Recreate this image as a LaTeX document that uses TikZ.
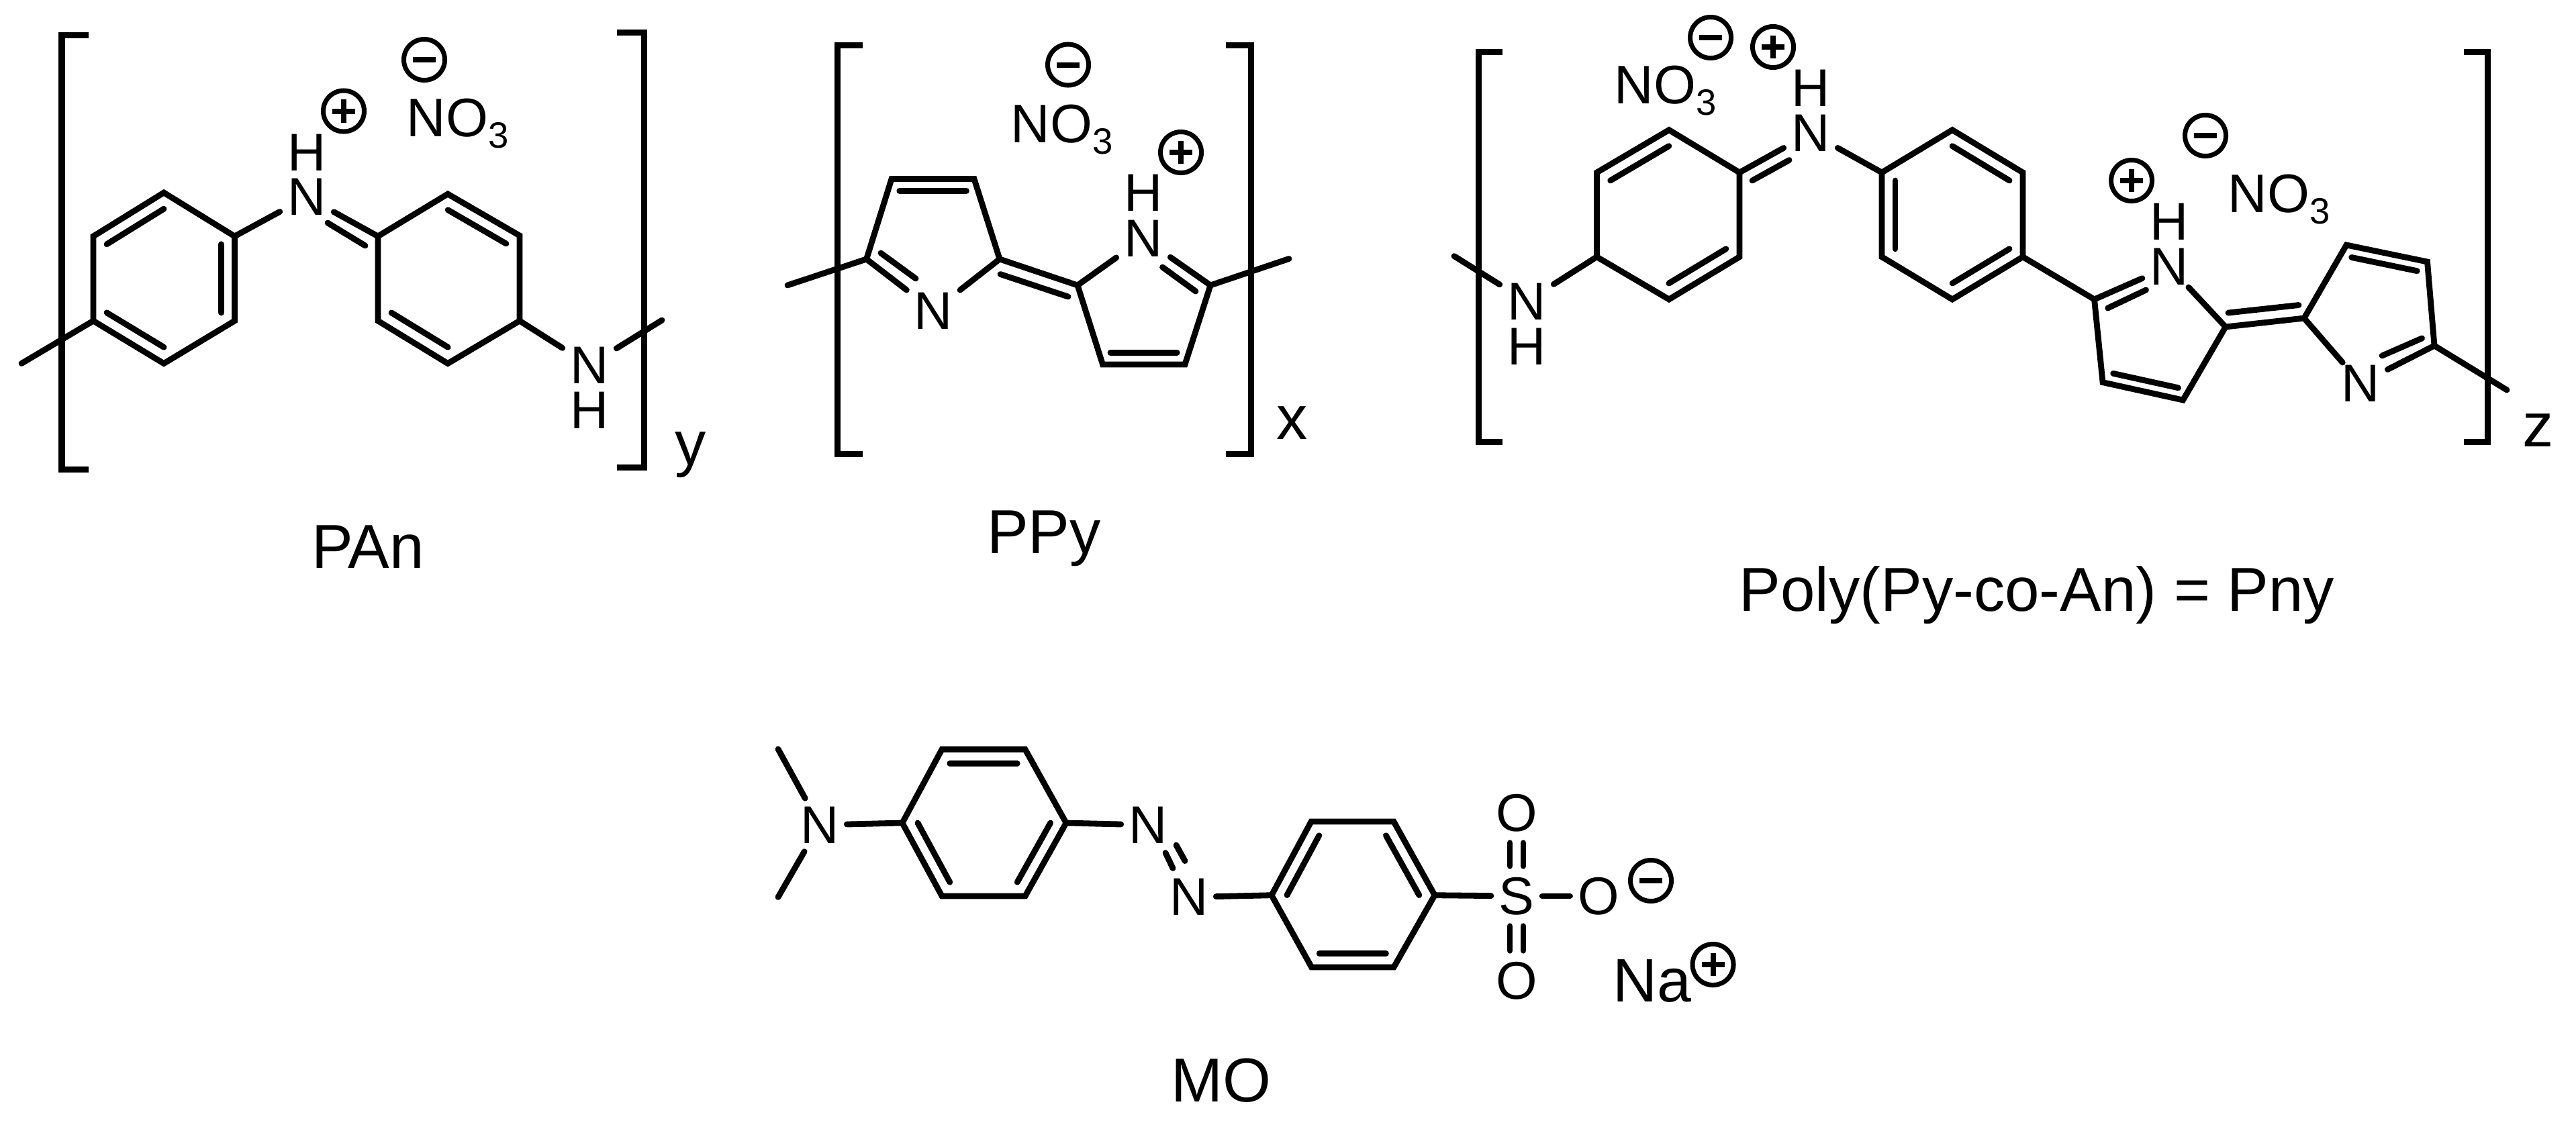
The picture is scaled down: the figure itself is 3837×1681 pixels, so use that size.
\documentclass[tikz,border=0pt]{standalone}
\usepackage{fontspec}
\setmainfont{Liberation Sans}
\usetikzlibrary{calc}
\tikzset{
    bond/.style={line width=.088cm, line cap=round},
    brk/.style={line width=.09cm},
    atom/.style={inner xsep=.11cm, inner ysep=.03cm, font=\fontsize{22.5}{22.5}\selectfont},
    salt/.style={inner sep=0pt, anchor=base west, font=\fontsize{23}{23}\selectfont},
    tag/.style={inner sep=0pt, anchor=base, font=\fontsize{26.3}{26.3}\selectfont},
    ion/.style={draw, circle, line width=.07cm, inner sep=0pt, minimum size=.61cm},
    negion/.style={ion, path picture={
        \draw[line width=.08cm] ([xshift=-.17cm]path picture bounding box.center) -- ([xshift=.17cm]path picture bounding box.center);}},
    posion/.style={ion, path picture={
        \draw[line width=.08cm] ([xshift=-.17cm]path picture bounding box.center) -- ([xshift=.17cm]path picture bounding box.center);
        \draw[line width=.08cm] ([yshift=-.17cm]path picture bounding box.center) -- ([yshift=.17cm]path picture bounding box.center);}}
}
\newcommand{\inbond}[3]{\draw[bond] ($(#1)!.19!(#3)$) -- ($(#2)!.19!(#3)$);}
\newcommand{\nitrate}{NO\raisebox{-5pt}{\fontsize{15.5}{15.5}\selectfont 3}}

\begin{document}
\begin{tikzpicture}[x=.01cm,y=-.01cm]
    \useasboundingbox (0,0) rectangle (3837,1681);

    % PAn
    \draw[brk] (132,52) -| (92,699) -- (132,699);
    \draw[brk] (919,48) -| (959,696) -- (919,696);
    \node[atom] (panNa) at (457,293.5) {N};
    \node[atom] (panHa) at (457,227) {H};
    \node[atom] (panNb) at (878,544) {N};
    \node[atom] (panHb) at (878,611) {H};
    \node[posion] (panPlus) at (512,165.5) {};
    \node[negion] (panMinus) at (632,89) {};
    \node[salt] (panSalt) at (605,203) {\nitrate};
    \node[tag] (panY) at (1029,692) {y};
    \node[tag] (panName) at (548,846) {PAn};
    \path (244,287) coordinate (a1) (349.5,352) coordinate (a2) (349.5,478) coordinate (a3)
        (244,541.5) coordinate (a4) (139,478) coordinate (a5) (139,352) coordinate (a6)
        (244.5,414) coordinate (ac);
    \path (563,352) coordinate (b1) (667,289) coordinate (b2) (774,351) coordinate (b3)
        (774,478) coordinate (b4) (667,541.5) coordinate (b5) (563,478) coordinate (b6)
        (668,414) coordinate (bc);
    \coordinate (panEndL) at (32,541.5);
    \coordinate (panEndR) at (986,477);
    \coordinate (panDbA) at (544,366);
    \coordinate (panDbB) at (488,332);
    \draw[bond] (a1) -- (a2) -- (a3) -- (a4) -- (a5) -- (a6) -- cycle;
    \inbond{a6}{a1}{ac}
    \inbond{a2}{a3}{ac}
    \inbond{a4}{a5}{ac}
    \draw[bond] (b1) -- (b2) -- (b3) -- (b4) -- (b5) -- (b6) -- cycle;
    \inbond{b2}{b3}{bc}
    \inbond{b5}{b6}{bc}
    \draw[bond] (a5) -- (panEndL);
    \draw[bond] (a2) -- (panNa);
    \draw[bond] (b1) -- (panNa);
    \draw[bond] (panDbA) -- (panDbB);
    \draw[bond] (b4) -- (panNb);
    \draw[bond] (panNb) -- (panEndR);

    % PPy
    \draw[brk] (1285,67) -| (1247.5,676) -- (1285,676);
    \draw[brk] (1826,67) -| (1863.5,676) -- (1826,676);
    \node[atom] (ppyNa) at (1390.5,463) {N};
    \node[atom] (ppyNb) at (1703,355) {N};
    \node[atom] (ppyH) at (1703,287) {H};
    \node[posion] (ppyPlus) at (1759,227) {};
    \node[negion] (ppyMinus) at (1591,96.5) {};
    \node[salt] (ppySalt) at (1505,212) {\nitrate};
    \node[tag] (ppyX) at (1925,654) {x};
    \node[tag] (ppyName) at (1555,824) {PPy};
    \path (1290.6,386) coordinate (c1) (1328,266.5) coordinate (c2) (1451,266.5) coordinate (c3)
        (1489,386) coordinate (c4) (1390,360) coordinate (cc);
    \path (1605,425) coordinate (d1) (1803,425) coordinate (d2) (1765,543) coordinate (d3)
        (1642.5,543) coordinate (d4) (1703,450) coordinate (dc);
    \coordinate (ppyEndL) at (1173,425);
    \coordinate (ppyEndR) at (1920,385.5);
    \path (1312,377) coordinate (ppyDbA) (1364,415) coordinate (ppyDbB);
    \path (1490,408.5) coordinate (ppyDbC) (1591,442) coordinate (ppyDbD);
    \path (1731.5,398) coordinate (ppyDbE) (1781,434) coordinate (ppyDbF);
    \draw[bond] (ppyNa) -- (c1) -- (c2) -- (c3) -- (c4) -- (ppyNa);
    \inbond{c2}{c3}{cc}
    \draw[bond] (ppyDbA) -- (ppyDbB);
    \draw[bond] (c1) -- (ppyEndL);
    \draw[bond] (c4) -- (d1);
    \draw[bond] (ppyDbC) -- (ppyDbD);
    \draw[bond] (ppyNb) -- (d1) -- (d4) -- (d3) -- (d2) -- (ppyNb);
    \inbond{d4}{d3}{dc}
    \draw[bond] (ppyDbE) -- (ppyDbF);
    \draw[bond] (d2) -- (ppyEndR);

    % Pny
    \draw[brk] (2238,77) -| (2202,658) -- (2238,658);
    \draw[brk] (3670,77) -| (3705,658) -- (3670,658);
    \node[atom] (pnyNa) at (2274,449) {N};
    \node[atom] (pnyHa) at (2274,516) {H};
    \node[atom] (pnyNb) at (2697,198) {N};
    \node[atom] (pnyHb) at (2697,131) {H};
    \node[atom] (pnyNc) at (3231,397) {N};
    \node[atom] (pnyHc) at (3231,330) {H};
    \node[atom] (pnyNd) at (3516,571) {N};
    \node[posion] (pnyPlusA) at (2641,70) {};
    \node[negion] (pnyMinusA) at (2548,56) {};
    \node[salt] (pnySaltA) at (2404,154) {\nitrate};
    \node[posion] (pnyPlusB) at (3175,269) {};
    \node[negion] (pnyMinusB) at (3285,202) {};
    \node[salt] (pnySaltB) at (3318,316) {\nitrate};
    \node[tag] (pnyZ) at (3781,665) {z};
    \node[tag] (pnyName) at (3034,910) {Poly(Py-co-An) = Pny};
    \path (2378.4,382.7) coordinate (e1) (2378.4,257) coordinate (e2) (2486,193.6) coordinate (e3)
        (2591,257) coordinate (e4) (2591,382.7) coordinate (e5) (2486,446) coordinate (e6)
        (2485,320) coordinate (ec);
    \path (2803,257) coordinate (f1) (2908,193.6) coordinate (f2) (3013,257) coordinate (f3)
        (3013,382.7) coordinate (f4) (2908,446) coordinate (f5) (2803,382.7) coordinate (f6)
        (2908,320) coordinate (fc);
    \path (3119.5,446) coordinate (g1) (3315,487) coordinate (g2) (3251.6,596) coordinate (g3)
        (3132,569.6) coordinate (g4) (3214,500) coordinate (gc);
    \path (3432,474) coordinate (h1) (3495,365) coordinate (h2) (3615.5,390) coordinate (h3)
        (3626,515) coordinate (h4) (3535,462) coordinate (hc);
    \coordinate (pnyEndL) at (2166,381.6);
    \coordinate (pnyEndR) at (3734,581);
    \path (2610,269) coordinate (pnyDbA) (2665,238.5) coordinate (pnyDbB);
    \path (3139.6,459) coordinate (pnyDbC) (3196.5,432) coordinate (pnyDbD);
    \path (3319,466) coordinate (pnyDbE) (3424,454.5) coordinate (pnyDbF);
    \path (3548,530) coordinate (pnyDbG) (3607.5,504) coordinate (pnyDbH);
    \draw[bond] (pnyEndL) -- (pnyNa);
    \draw[bond] (pnyNa) -- (e1);
    \draw[bond] (e1) -- (e2) -- (e3) -- (e4) -- (e5) -- (e6) -- cycle;
    \inbond{e2}{e3}{ec}
    \inbond{e5}{e6}{ec}
    \draw[bond] (e4) -- (pnyNb);
    \draw[bond] (pnyDbA) -- (pnyDbB);
    \draw[bond] (pnyNb) -- (f1);
    \draw[bond] (f1) -- (f2) -- (f3) -- (f4) -- (f5) -- (f6) -- cycle;
    \inbond{f1}{f6}{fc}
    \inbond{f2}{f3}{fc}
    \inbond{f4}{f5}{fc}
    \draw[bond] (f4) -- (g1);
    \draw[bond] (pnyNc) -- (g1) -- (g4) -- (g3) -- (g2) -- (pnyNc);
    \inbond{g4}{g3}{gc}
    \draw[bond] (pnyDbC) -- (pnyDbD);
    \draw[bond] (g2) -- (h1);
    \draw[bond] (pnyDbE) -- (pnyDbF);
    \draw[bond] (pnyNd) -- (h1) -- (h2) -- (h3) -- (h4) -- (pnyNd);
    \inbond{h2}{h3}{hc}
    \draw[bond] (pnyDbG) -- (pnyDbH);
    \draw[bond] (h4) -- (pnyEndR);

    % MO
    \node[atom] (moNa) at (1221,1229) {N};
    \node[atom] (moNb) at (1710,1229) {N};
    \node[atom] (moNc) at (1771,1336.5) {N};
    \node[atom] (moS) at (2259,1335) {S};
    \node[atom] (moOa) at (2259,1211) {O};
    \node[atom] (moOb) at (2259,1461) {O};
    \node[atom] (moOc) at (2381,1335) {O};
    \node[negion] (moMinus) at (2459,1312) {};
    \node[salt, font=\fontsize{26}{26}\selectfont] (moSalt) at (2402,1492) {Na};
    \node[posion] (moPlus) at (2551.5,1437) {};
    \node[tag] (moName) at (1819,1641.5) {MO};
    \path (1344,1226) coordinate (k1) (1403,1116.4) coordinate (k2) (1527,1116.4) coordinate (k3)
        (1588,1226) coordinate (k4) (1527,1335) coordinate (k5) (1403,1335) coordinate (k6)
        (1465,1226) coordinate (kc);
    \path (1894,1333.7) coordinate (m1) (1953,1224) coordinate (m2) (2076,1224) coordinate (m3)
        (2137,1333.7) coordinate (m4) (2076,1441) coordinate (m5) (1953.6,1441) coordinate (m6)
        (2015,1333) coordinate (mc);
    \coordinate (moEndA) at (1159,1116);
    \coordinate (moEndB) at (1159,1336.5);
    \path (1736,1270.5) coordinate (moDbA) (1747,1293.5) coordinate (moDbB);
    \path (1752,1259) coordinate (moDbC) (1765,1282.6) coordinate (moDbD);
    \draw[bond, shorten >=.1cm] (moEndA) -- (moNa);
    \draw[bond, shorten >=.1cm] (moEndB) -- (moNa);
    \draw[bond] (moNa) -- (k1);
    \draw[bond] (k1) -- (k2) -- (k3) -- (k4) -- (k5) -- (k6) -- cycle;
    \inbond{k2}{k3}{kc}
    \inbond{k1}{k6}{kc}
    \inbond{k4}{k5}{kc}
    \draw[bond] (k4) -- (moNb);
    \draw[bond] (moDbA) -- (moDbB);
    \draw[bond] (moDbC) -- (moDbD);
    \draw[bond] (moNc) -- (m1);
    \draw[bond] (m1) -- (m2) -- (m3) -- (m4) -- (m5) -- (m6) -- cycle;
    \inbond{m1}{m2}{mc}
    \inbond{m3}{m4}{mc}
    \inbond{m5}{m6}{mc}
    \draw[bond] (m4) -- (moS);
    \draw[bond] (moS) -- (moOc);
    \draw[bond, shorten >=.13cm, shorten <=.13cm] ([xshift=-.1cm]moS.north) -- ([xshift=-.1cm]moOa.south);
    \draw[bond, shorten >=.13cm, shorten <=.13cm] ([xshift=.1cm]moS.north) -- ([xshift=.1cm]moOa.south);
    \draw[bond, shorten >=.13cm, shorten <=.13cm] ([xshift=-.1cm]moS.south) -- ([xshift=-.1cm]moOb.north);
    \draw[bond, shorten >=.13cm, shorten <=.13cm] ([xshift=.1cm]moS.south) -- ([xshift=.1cm]moOb.north);
\end{tikzpicture}
\end{document}
